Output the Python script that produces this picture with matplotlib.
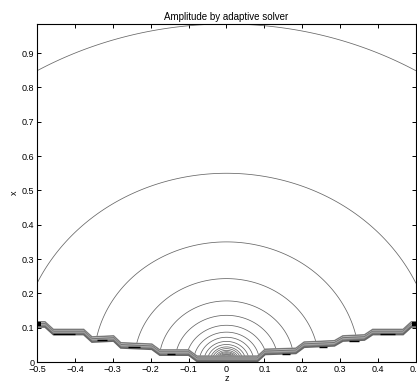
import numpy as np
import matplotlib
matplotlib.use("Agg")
import matplotlib.pyplot as plt

plt.rcParams['font.family'] = ['Liberation Sans', 'DejaVu Sans']

# contour radii (amplitude levels, outer to inner)
radii = [0.985, 0.55, 0.35, 0.243, 0.178, 0.136, 0.107, 0.087, 0.072, 0.060,
         0.051, 0.044, 0.039, 0.034, 0.030, 0.027, 0.024, 0.022, 0.020]

# top edge of the adaptive-mesh staircase
stair_z = [-0.5, -0.479, -0.457, -0.377, -0.355, -0.298, -0.279, -0.197, -0.176,
           -0.100, -0.078, 0.082, 0.102, 0.183, 0.205, 0.285, 0.307, 0.364,
           0.386, 0.466, 0.488, 0.5]
stair_x = [0.117, 0.117, 0.095, 0.095, 0.073, 0.076, 0.056, 0.052, 0.035,
           0.035, 0.017, 0.017, 0.037, 0.040, 0.058, 0.062, 0.076, 0.079,
           0.095, 0.095, 0.117, 0.117]

# black dashes under the steps
dash_z0 = [-0.457, -0.342, -0.259, -0.157, 0.147, 0.245, 0.323, 0.405]
dash_z1 = [-0.400, -0.316, -0.228, -0.135, 0.168, 0.266, 0.350, 0.445]
dash_x = [0.082, 0.063, 0.044, 0.022, 0.022, 0.043, 0.061, 0.082]

# black core at the source
core_z = [-0.022, 0.026]
core_x = 0.018

fig = plt.figure(figsize=(4.17, 3.86), dpi=100)
ax = fig.add_axes([37 / 417, 1 - 362 / 386, 379 / 417, 338 / 386])

z = np.linspace(-0.5, 0.5, 900)
x = np.linspace(0, 0.985, 900)
Z, X = np.meshgrid(z, x)
R = np.hypot(Z, X)
floor = np.interp(Z, stair_z, stair_x)
R = np.ma.masked_where(X < floor, R)
ax.contour(Z, X, R, levels=sorted(radii), colors='0.4', linewidths=0.55)

# bunched contour lines along the staircase
offsets = [0.0, 0.003, 0.006, 0.009, 0.012, 0.015]
greys = ['0.6', '0.75', '0.45', '0.65', '0.5', '0.4']
sx = np.array(stair_x)
for off, g in zip(offsets, greys):
    ax.plot(stair_z, sx - off, color=g, lw=1.2, solid_joinstyle='miter')
ax.plot(stair_z, sx, color='0.4', lw=0.5)

ax.hlines(dash_x, dash_z0, dash_z1, colors='k', lw=1.0)
ax.fill_between(core_z, 0, core_x, color='k', lw=0)
ax.plot([-0.5, -0.49], [0.112, 0.112], color='k', lw=3, solid_capstyle='butt')
ax.plot([0.49, 0.5], [0.112, 0.112], color='k', lw=3, solid_capstyle='butt')

ax.set_xlim(-0.5, 0.5)
ax.set_ylim(0, 0.985)
ax.set_xticks(np.arange(-0.5, 0.51, 0.1))
ax.set_xticklabels(['−0.5', '−0.4', '−0.3', '−0.2', '−0.1', '0',
                    '0.1', '0.2', '0.3', '0.4', '0.5'])
ax.set_yticks(np.arange(0, 0.91, 0.1))
ax.set_yticklabels(['0', '0.1', '0.2', '0.3', '0.4', '0.5', '0.6', '0.7', '0.8', '0.9'])
ax.tick_params(direction='in', length=3, width=0.7, labelsize=6.5, pad=2,
               top=True, right=True)
ax.tick_params(axis='x', pad=2.5)
for s in ax.spines.values():
    s.set_linewidth(0.8)

ax.set_title('Amplitude by adaptive solver', fontsize=7, pad=3)
ax.set_xlabel('z', fontsize=6.5, labelpad=0)
ax.set_ylabel('x', fontsize=6.5, labelpad=2)

fig.savefig('out.png', dpi=100)
